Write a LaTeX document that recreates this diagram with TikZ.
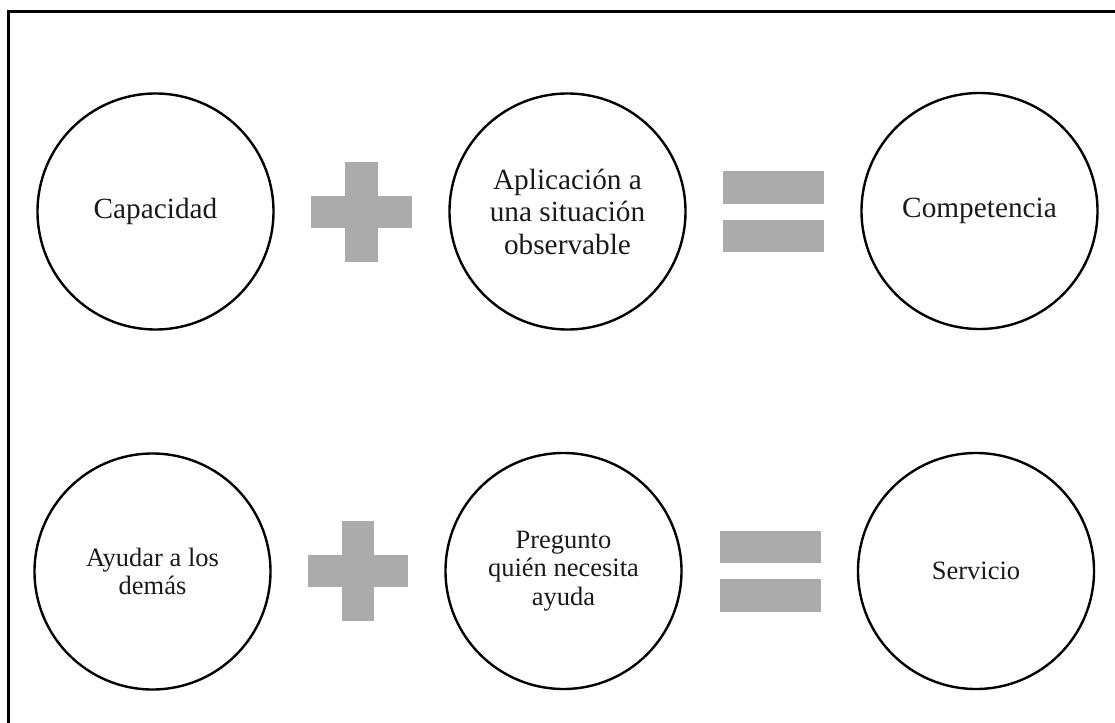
\documentclass[tikz,border=0pt]{standalone}
\usepackage{fontspec}
\setmainfont{Liberation Serif}
\definecolor{signgray}{HTML}{ABABAB}
\definecolor{inktext}{HTML}{1A1A1A}
\begin{document}
\begin{tikzpicture}[x=1pt,y=-1pt,
  bubble/.style={circle,draw=black,line width=2.4pt,minimum size=236pt,inner sep=0pt,
    align=center,text=inktext},
  bigtext/.style={font=\fontsize{29.3}{32.5}\selectfont},
  smalltext/.style={font=\fontsize{26.5}{28.5}\selectfont},
  signfill/.style={fill=signgray,draw=none}]
\useasboundingbox (0,0) rectangle (1115,722);
% open frame: left and top edges
\draw[line width=2.3pt] (8.5,730) -- (8.5,11.5) -- (1125,11.5);

% first row
\node[bubble,bigtext] (cap) at (155.5,211.5) {Capacidad};
\node[bubble,bigtext] (apl) at (567.5,211.5) {Aplicación a\\una situación\\observable};
\node[bubble,bigtext] (com) at (979.5,211) {Competencia};

% plus sign, first row
\fill[signfill] (345,162) rectangle (378,262);
\fill[signfill] (311,196) rectangle (412,228);
% equals sign, first row
\fill[signfill] (723,171) rectangle (824,204);
\fill[signfill] (723,220) rectangle (824,252);

% second row
\node[bubble,smalltext] (ayu) at (152.5,571.5) {Ayudar a los\\demás};
\node[bubble,smalltext] (pre) at (563.5,571) {Pregunto\\quién necesita\\ayuda};
\node[bubble,smalltext] (ser) at (976,571) {Servicio};

% plus sign, second row
\fill[signfill] (342,521) rectangle (374,621);
\fill[signfill] (308,555) rectangle (408,587);
% equals sign, second row
\fill[signfill] (720,531) rectangle (821,563);
\fill[signfill] (720,579) rectangle (821,612);
\end{tikzpicture}
\end{document}
